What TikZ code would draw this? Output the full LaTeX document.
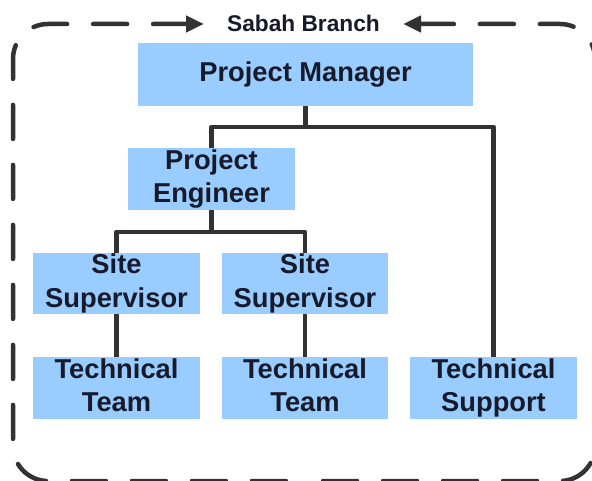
\documentclass[tikz,border=0pt]{standalone}
\usepackage{fontspec}
\setmainfont{Liberation Sans}
\usetikzlibrary{arrows.meta}
\definecolor{boxblue}{RGB}{153,204,255}
\definecolor{inkc}{RGB}{22,26,42}
\definecolor{linec}{RGB}{50,50,52}
\newcommand{\topstr}{\rule{0pt}{20pt}}
\newcommand{\botstr}{\rule[-6pt]{0pt}{6pt}}
\newcommand{\pmstr}{\rule[-3pt]{0pt}{3pt}}
\tikzset{
  orgbox/.style={draw=none, fill=boxblue, inner sep=0pt, align=center,
    text=inkc, font=\bfseries\fontsize{27.3}{33}\selectfont},
  conn/.style={draw=linec, line width=4.3pt, line join=round},
  frame/.style={draw=linec, line width=4.5pt, line cap=round,
    dash pattern=on 34pt off 26pt, rounded corners=35pt},
  tip/.style={{Triangle[length=18pt,width=16pt]}-}
}
\begin{document}
\begin{tikzpicture}[x=1pt,y=-1pt]
\clip (0,0) rectangle (592,481);
\fill[white] (0,0) rectangle (592,481);
% title
\node[anchor=base, text=inkc, inner sep=0pt, font=\bfseries\fontsize{22.7}{27}\selectfont] (title) at (303.5,31.5) {Sabah Branch};
\coordinate (ltip) at (204,24);
\coordinate (rtip) at (403,24);
% frame
\draw[frame, tip] (ltip) -- (13,24) -- (13,481) -- (304,481);
\draw[frame, tip] (rtip) -- (595,24) -- (595,481) -- (304,481);
% boxes
\node[orgbox, minimum width=335pt, minimum height=63pt] (pm) at (305.5,74.5) {\topstr Project Manager\pmstr};
\node[orgbox, minimum width=167pt, minimum height=62pt] (pe) at (211.5,179) {\topstr Project\\Engineer\botstr};
\node[orgbox, minimum width=167pt, minimum height=61pt] (ss1) at (116.5,283.5) {\topstr Site\\Supervisor\botstr};
\node[orgbox, minimum width=166pt, minimum height=61pt] (ss2) at (305,283.5) {\topstr Site\\Supervisor\botstr};
\node[orgbox, minimum width=167pt, minimum height=62pt] (tt1) at (116.5,388) {\topstr Technical\\Team\botstr};
\node[orgbox, minimum width=166pt, minimum height=62pt] (tt2) at (305,388) {\topstr Technical\\Team\botstr};
\node[orgbox, minimum width=167pt, minimum height=62pt] (ts) at (493.5,388) {\topstr Technical\\Support\botstr};
% connectors
\coordinate (bus1) at (305.5,127);
\coordinate (bus2) at (211.5,232);
\draw[conn] (pm.south) -- (bus1);
\draw[conn] (pe.north) |- (bus1) -| (ts.north);
\draw[conn] (pe.south) -- (bus2);
\draw[conn] (ss1.north) |- (bus2) -| (ss2.north);
\draw[conn] (ss1.south) -- (tt1.north);
\draw[conn] (ss2.south) -- (tt2.north);
\end{tikzpicture}
\end{document}
